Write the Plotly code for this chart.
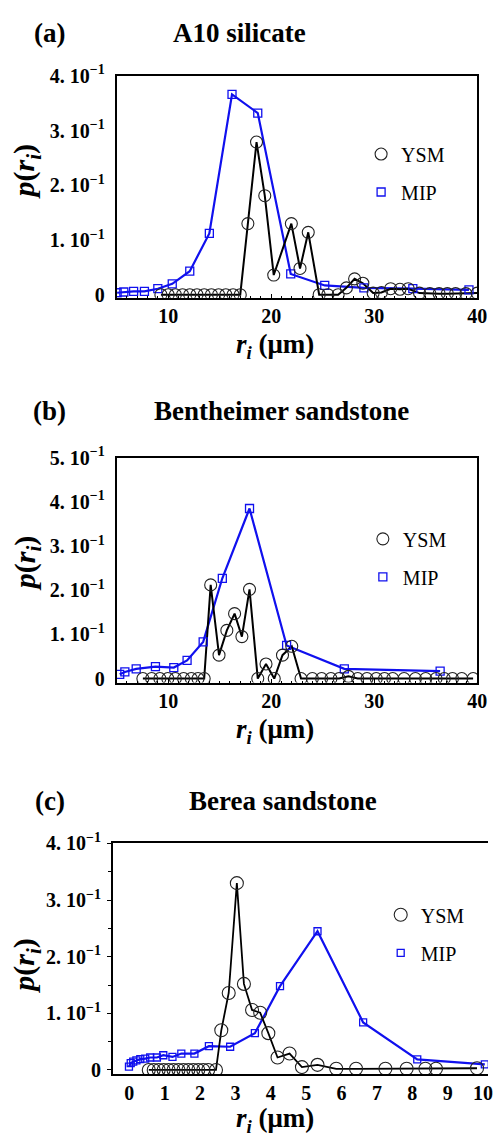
import plotly.graph_objects as go

# ---------------- data ----------------
# (a) A10 silicate
ysm_a_x = [9.3, 10.0, 10.7, 11.4, 12.1, 12.8, 13.5, 14.2, 14.9, 15.6, 16.3, 17.0,
           17.74, 18.58, 19.38, 20.25, 21.96, 22.8, 23.6, 24.66, 25.5, 26.5, 27.3,
           28.1, 28.9, 29.9, 30.7, 31.6, 32.5, 33.3, 34.4, 35.4, 36.3, 37.1, 37.9,
           38.9, 40.0]
ysm_a_y = [0, 0, 0, 0, 0, 0, 0, 0, 0, 0, 0, 0,
           0.130, 0.279, 0.181, 0.036, 0.130, 0.048, 0.114, 0.0, 0.0, 0.0, 0.0125,
           0.029, 0.021, 0.003, 0.004, 0.011, 0.010, 0.011, 0.003, 0.002, 0.002,
           0.002, 0.002, 0.002, 0.003]
mip_a_x = [5.05, 5.7, 6.65, 7.7, 9.0, 10.4, 12.1, 14.0, 16.2, 18.7, 21.9, 25.2,
           29.0, 33.75, 39.2]
mip_a_y = [0.0036, 0.005, 0.006, 0.006, 0.011, 0.020, 0.043, 0.112, 0.366, 0.332,
           0.038, 0.017, 0.0125, 0.011, 0.009]

# (b) Bentheimer sandstone
ysm_b_x = [7.55, 8.4, 9.2, 9.97, 10.7, 11.5, 12.25, 12.9, 13.5,
           14.13, 14.94, 15.7, 16.45, 17.16, 17.9, 18.7, 19.5, 20.3, 21.1, 22.0, 22.9,
           24.0, 24.9, 25.8, 26.6, 27.5, 28.4, 29.3, 30.2, 31.0, 31.8, 32.9, 34.0,
           35.0, 36.0, 36.8, 37.6, 38.5, 39.6]
ysm_b_y = [0, 0, 0, 0, 0, 0, 0, 0, 0,
           0.212, 0.053, 0.109, 0.147, 0.095, 0.202, 0.0, 0.033, 0.0, 0.053, 0.073, 0.0,
           0, 0, 0, 0, 0.005, 0, 0, 0, 0, 0, 0, 0,
           0, 0, 0, 0, 0, 0]
mip_b_x = [5.3, 5.8, 6.9, 8.77, 10.55, 11.84, 13.4, 15.26, 17.9, 21.5, 27.1, 36.4]
mip_b_y = [0.0096, 0.015, 0.022, 0.027, 0.025, 0.041, 0.083, 0.227, 0.385, 0.075,
           0.022, 0.017]

# (c) Berea sandstone
ysm_c_x = [0.55, 0.69, 0.83, 0.97, 1.11, 1.25, 1.39, 1.53, 1.67, 1.81, 1.95, 2.09,
           2.23, 2.45,
           2.6, 2.81, 3.04, 3.24, 3.47, 3.70, 3.93, 4.19, 4.53, 4.88, 5.32, 5.85,
           6.41, 7.24, 7.84, 8.37, 8.67, 9.83]
ysm_c_y = [0, 0, 0, 0, 0, 0, 0, 0, 0, 0, 0, 0, 0, 0,
           0.070, 0.136, 0.330, 0.152, 0.106, 0.101, 0.065, 0.022, 0.029, 0.005,
           0.009, 0.002, 0.002, 0.002, 0.002, 0.002, 0.002, 0.003]
mip_c_x = [-0.01, 0.04, 0.11, 0.2, 0.31, 0.45, 0.59, 0.78, 0.96, 1.22, 1.47, 1.84,
           2.25, 2.85, 3.55, 4.26, 5.32, 6.61, 8.14, 10.05]
mip_c_y = [0.006, 0.012, 0.0146, 0.017, 0.019, 0.020, 0.022, 0.022, 0.026, 0.023,
           0.029, 0.029, 0.042, 0.041, 0.065, 0.148, 0.245, 0.084, 0.0186, 0.010]

titles = ["A10 silicate", "Bentheimer sandstone", "Berea sandstone"]
labels = ["(a)", "(b)", "(c)"]
y_ticks_ab = [0, 0.1, 0.2, 0.3, 0.4, 0.5]
y_ticktext = ["0", "1. 10<sup>\u22121</sup>", "2. 10<sup>\u22121</sup>",
              "3. 10<sup>\u22121</sup>", "4. 10<sup>\u22121</sup>", "5. 10<sup>\u22121</sup>"]
x_ticks_ab = [10, 20, 30, 40]
x_ticks_c = [0, 1, 2, 3, 4, 5, 6, 7, 8, 9, 10]

W, H = 498, 1146
SERIF = "Liberation Serif, Times New Roman, serif"
BLUE = "#1010ee"

fig = go.Figure()

panels = [
    dict(ysx=ysm_a_x, ysy=ysm_a_y, mpx=mip_a_x, mpy=mip_a_y, ax="", csize=12, ssize=8, lw_k=2),
    dict(ysx=ysm_b_x, ysy=ysm_b_y, mpx=mip_b_x, mpy=mip_b_y, ax="2", csize=12, ssize=8, lw_k=2),
    dict(ysx=ysm_c_x, ysy=ysm_c_y, mpx=mip_c_x, mpy=mip_c_y, ax="3", csize=13, ssize=7, lw_k=1.8),
]

for i, p in enumerate(panels):
    xa, ya = "x" + p["ax"], "y" + p["ax"]
    leg = "legend" + p["ax"]
    fig.add_trace(go.Scatter(x=p["mpx"], y=p["mpy"], mode="lines", xaxis=xa, yaxis=ya,
                             line=dict(color=BLUE, width=2.2), showlegend=False,
                             hoverinfo="skip"))
    fig.add_trace(go.Scatter(x=p["ysx"], y=p["ysy"], mode="lines", xaxis=xa, yaxis=ya,
                             line=dict(color="black", width=p["lw_k"]), showlegend=False,
                             hoverinfo="skip"))
    fig.add_trace(go.Scatter(x=p["mpx"], y=p["mpy"], mode="markers", xaxis=xa, yaxis=ya,
                             name="MIP", legend=leg, legendgroup="m" + str(i), legendrank=2,
                             marker=dict(symbol="square-open", size=p["ssize"], color=BLUE,
                                         line=dict(width=1.3, color=BLUE))))
    fig.add_trace(go.Scatter(x=p["ysx"], y=p["ysy"], mode="markers", xaxis=xa, yaxis=ya,
                             name="YSM", legend=leg, legendgroup="y" + str(i), legendrank=1,
                             marker=dict(symbol="circle-open", size=p["csize"], color="#222222",
                                         line=dict(width=1.1, color="#222222"))))

tickfont = dict(family=SERIF, size=20, color="black", weight="bold")

def xdom(l, r):
    return [l / W, r / W]

def ydom(top, bottom):
    return [1 - bottom / H, 1 - top / H]

axis_common = dict(showline=True, linecolor="black", linewidth=1.6, showgrid=False,
                   zeroline=False, tickfont=tickfont)

layout = dict(
    width=W, height=H, margin=dict(l=0, r=0, t=0, b=0),
    paper_bgcolor="white", plot_bgcolor="white",
    xaxis=dict(domain=xdom(119, 487), range=[5, 40], anchor="y", mirror=True,
               tickvals=x_ticks_ab, ticks="inside", ticklen=4, tickcolor="black",
               minor=dict(dtick=1, ticks="inside", ticklen=2, tickcolor="black"),
               **axis_common),
    yaxis=dict(domain=ydom(64, 290), range=[-0.0054, 0.4], anchor="x", mirror=True,
               tickvals=y_ticks_ab[:5], ticktext=y_ticktext[:5], ticks="",
               ticklabelstandoff=6, **axis_common),
    xaxis2=dict(domain=xdom(119, 487), range=[5, 40], anchor="y2", mirror=True,
                tickvals=x_ticks_ab, ticks="inside", ticklen=4, tickcolor="black",
                minor=dict(dtick=1, ticks="inside", ticklen=2, tickcolor="black"),
                **axis_common),
    yaxis2=dict(domain=ydom(453, 682), range=[-0.0089, 0.5], anchor="x2", mirror=True,
                tickvals=y_ticks_ab, ticktext=y_ticktext, ticks="",
                ticklabelstandoff=6, **axis_common),
    xaxis3=dict(domain=xdom(115, 498), range=[-0.47, 10.14], anchor="y3", mirror=True,
                tickvals=x_ticks_c, ticks="", **axis_common),
    yaxis3=dict(domain=ydom(846, 1081), range=[-0.0075, 0.4], anchor="x3", mirror=False,
                tickvals=y_ticks_ab[:5], ticktext=y_ticktext[:5], ticks="outside",
                ticklen=4, tickcolor="black",
                minor=dict(dtick=0.05, ticks="outside", ticklen=3, tickcolor="black"),
                ticklabelstandoff=2, **axis_common),
)

legfont = dict(family=SERIF, size=20, color="black")
leg_pos = [(381.5, 163.0), (383.3, 555.0), (401.5, 938.0)]
for k, (lx, ly) in zip(["legend", "legend2", "legend3"], leg_pos):
    layout[k] = dict(x=(lx - 13) / W, y=1 - ly / H, xanchor="left", yanchor="middle",
                     bgcolor="rgba(0,0,0,0)", font=legfont, tracegroupgap=9,
                     itemclick=False)

fig.update_layout(**layout)

# titles and labels
title_pos = [(20, 244), (405, 287), (803, 289)]
xtitle_y = [339, 731, 1128]
ytitle_y = [161, 560, 970]
xtitle = "<b><i>r</i></b><sub><b><i>i</i></b></sub><b> (\u03bcm)</b>"
ytitle = "<b><i>p</i>(<i>r</i><sub><i>i</i></sub>)</b>"
ann = dict(xref="paper", yref="paper", showarrow=False, xanchor="center", yanchor="middle")
for i in range(3):
    ty, tx = title_pos[i]
    fig.add_annotation(text="<b>" + labels[i] + "</b>", x=51 / W, y=1 - ty / H,
                       font=dict(family=SERIF, size=27, color="black"), **ann)
    fig.add_annotation(text="<b>" + titles[i] + "</b>", x=tx / W, y=1 - ty / H,
                       font=dict(family=SERIF, size=27, color="black"), **ann)
    fig.add_annotation(text=xtitle, x=281 / W, y=1 - xtitle_y[i] / H,
                       font=dict(family=SERIF, size=27, color="black"), **ann)
    fig.add_annotation(text=ytitle, x=27 / W, y=1 - ytitle_y[i] / H, textangle=-90,
                       font=dict(family=SERIF, size=30, color="black"), **ann)

fig.write_html("out.html", config={"displayModeBar": False},
               post_script="document.body.style.margin='0px';"
                           "document.body.style.overflow='hidden';")
